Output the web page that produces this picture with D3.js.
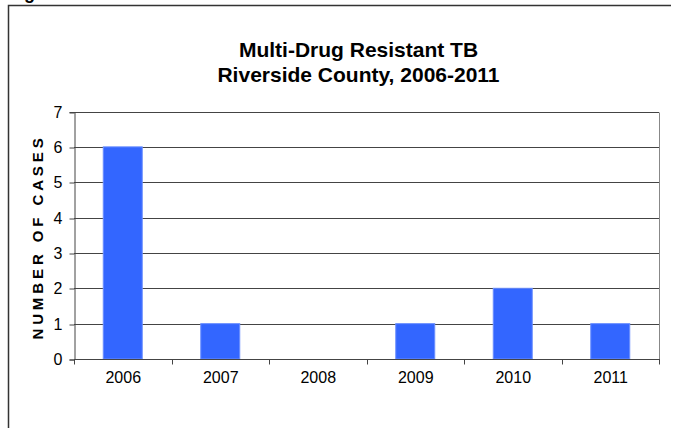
<!DOCTYPE html>
<html>
<head>
<meta charset="utf-8">
<script src="https://cdn.jsdelivr.net/npm/d3@7"></script>
<style>
  html, body { margin: 0; padding: 0; background: #fff; }
  svg { display: block; }
  svg text { font-family: Arial, "Liberation Sans", Helvetica, sans-serif !important; }
</style>
</head>
<body>
<svg id="chart" width="673" height="428"></svg>
<script>
const categories = ["2006", "2007", "2008", "2009", "2010", "2011"];
const cases = [6, 1, 0, 1, 2, 1];
const yTicks = [0, 1, 2, 3, 4, 5, 6, 7];
const titleLines = ["Multi-Drug Resistant TB", "Riverside County, 2006-2011"];
const yTitle = "NUMBER OF CASES";

const svg = d3.select("#chart");
const W = 673, H = 428;
const plot = { left: 74, right: 659, top: 111.5, bottom: 359 };

// outer frame (cropped figure)
svg.append("path")
  .attr("d", `M8.5,${H} V5.5 H671`)
  .attr("fill", "none").attr("stroke", "#333").attr("stroke-width", 1.5);

// cropped figure caption (cut off at the top edge, as in the source)
svg.append("text").attr("x", 8).attr("y", -1)
  .attr("font-size", 18).attr("font-weight", "bold").attr("fill", "#000")
  .text("Figure 3");

const x = d3.scaleBand().domain(categories)
  .range([plot.left, plot.right]).paddingInner(0.6).paddingOuter(0.3);
const xOuter = d3.scaleBand().domain(categories)
  .range([plot.left, plot.right]).padding(0);
const y = d3.scaleLinear().domain([0, 7]).range([plot.bottom, plot.top]);

// gridlines
svg.append("g").selectAll("line").data(yTicks.filter(d => d > 0)).join("line")
  .attr("x1", plot.left).attr("x2", plot.right)
  .attr("y1", d => Math.round(y(d)) + 0.5).attr("y2", d => Math.round(y(d)) + 0.5)
  .attr("stroke", "#444").attr("stroke-width", 1);

// plot border (right)
svg.append("line")
  .attr("x1", plot.right + 0.5).attr("x2", plot.right + 0.5)
  .attr("y1", Math.round(y(7)) + 0.5).attr("y2", Math.round(y(0)) + 0.5)
  .attr("stroke", "#888").attr("stroke-width", 1);

// bars
svg.append("g").selectAll("rect").data(categories).join("rect")
  .attr("x", d => x(d))
  .attr("width", x.bandwidth())
  .attr("y", (d, i) => y(cases[i]))
  .attr("height", (d, i) => y(0) - y(cases[i]))
  .attr("fill", "#3366FF")
  .attr("stroke", "#6b8fff").attr("stroke-width", 1)
  .style("display", (d, i) => cases[i] > 0 ? null : "none");

// y axis
const yAxis = svg.append("g")
  .attr("transform", `translate(${plot.left + 0.5},0.5)`)
  .call(d3.axisLeft(y).tickValues(yTicks).tickSize(5).tickPadding(7).tickFormat(d3.format("d")));
yAxis.select(".domain").attr("stroke", "#444");
yAxis.selectAll(".tick line").attr("stroke", "#444").attr("transform", d => `translate(0,${Math.round(y(d)) - y(d)})`);
yAxis.selectAll(".tick text").attr("font-size", 16).attr("fill", "#000");

// x axis
const xAxis = svg.append("g")
  .attr("transform", `translate(0.5,${Math.round(plot.bottom) + 0.5})`)
  .call(d3.axisBottom(x).tickSize(0).tickPadding(12.5));
xAxis.select(".domain").remove();
xAxis.selectAll(".tick text").attr("font-size", 16).attr("fill", "#000");
svg.append("line")
  .attr("x1", plot.left).attr("x2", plot.right + 1)
  .attr("y1", Math.round(plot.bottom) + 0.5).attr("y2", Math.round(plot.bottom) + 0.5)
  .attr("stroke", "#444");
// category boundary ticks
const bounds = categories.map(c => xOuter(c)).concat([plot.right]);
svg.append("g").selectAll("line").data(bounds).join("line")
  .attr("x1", d => Math.round(d) + 0.5).attr("x2", d => Math.round(d) + 0.5)
  .attr("y1", Math.round(plot.bottom) + 0.5).attr("y2", Math.round(plot.bottom) + 5.5)
  .attr("stroke", "#444");

// title
svg.append("text").attr("x", 358.5).attr("y", 57)
  .attr("text-anchor", "middle").attr("font-size", 21).attr("font-weight", "bold")
  .text(titleLines[0]);
svg.append("text").attr("x", 358.5).attr("y", 82)
  .attr("text-anchor", "middle").attr("font-size", 21).attr("font-weight", "bold")
  .text(titleLines[1]);

// y title
svg.append("text")
  .attr("transform", `translate(42.5,237) rotate(-90)`)
  .attr("text-anchor", "middle").attr("font-size", 15).attr("font-weight", "bold")
  .attr("letter-spacing", 3.9)
  .text(yTitle);
</script>
</body>
</html>
